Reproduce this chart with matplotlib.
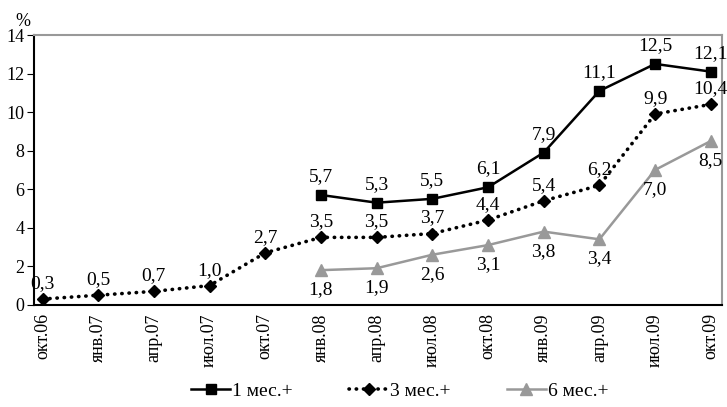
import numpy as np
import matplotlib
matplotlib.use("Agg")
import matplotlib.pyplot as plt

plt.rcParams['font.family'] = ['Liberation Serif', 'DejaVu Serif']

periods = ['окт.06', 'янв.07', 'апр.07', 'июл.07', 'окт.07', 'янв.08', 'апр.08',
           'июл.08', 'окт.08', 'янв.09', 'апр.09', 'июл.09', 'окт.09']
m1 = [np.nan] * 5 + [5.7, 5.3, 5.5, 6.1, 7.9, 11.1, 12.5, 12.1]
m3 = [0.3, 0.5, 0.7, 1.0, 2.7, 3.5, 3.5, 3.7, 4.4, 5.4, 6.2, 9.9, 10.4]
m6 = [np.nan] * 5 + [1.8, 1.9, 2.6, 3.1, 3.8, 3.4, 7.0, 8.5]

x = np.arange(len(periods))

fig = plt.figure(figsize=(7.27, 4.07), dpi=100)
ax = fig.add_axes([0.047, 0.251, 0.946, 0.663])

ax.plot(x, m1, color='black', lw=1.8, marker='s', ms=7, label='1 мес.+')
ax.plot(x, m3, color='black', lw=2.6, ls=(0, (0.1, 1.9)), dash_capstyle='round',
        marker='D', ms=6, label='3 мес.+')
ax.plot(x, m6, color='#999999', lw=1.8, marker='^', ms=8, label='6 мес.+')

def fmt(v):
    return ('%.1f' % v).replace('.', ',')

for i, v in enumerate(m1):
    if not np.isnan(v):
        ax.annotate(fmt(v), (i, v), xytext=(0, 7), textcoords='offset points',
                    ha='center', va='bottom', fontsize=14)
for i, v in enumerate(m3):
    ax.annotate(fmt(v), (i, v), xytext=(0, 5), textcoords='offset points',
                ha='center', va='bottom', fontsize=14)
for i, v in enumerate(m6):
    if not np.isnan(v):
        ax.annotate(fmt(v), (i, v), xytext=(0, -8), textcoords='offset points',
                    ha='center', va='top', fontsize=14)

ax.set_xlim(-0.15, 12.2)
ax.set_ylim(0, 14)
ax.set_yticks(np.arange(0, 15, 2))
ax.set_xticks(x)
ax.set_xticklabels(periods, rotation=90, fontsize=13)
ax.tick_params(axis='y', labelsize=13, direction='out', length=5, pad=2)
ax.tick_params(axis='x', length=0, pad=6)

for s in ['top', 'right']:
    ax.spines[s].set_color('#999999')
    ax.spines[s].set_linewidth(1.5)
for s in ['left', 'bottom']:
    ax.spines[s].set_color('black')
    ax.spines[s].set_linewidth(1.5)

ax.text(-0.016, 1.035, '%', transform=ax.transAxes, fontsize=13, ha='center')

fig.legend(loc='lower center', bbox_to_anchor=(0.55, -0.025), ncol=3,
           frameon=False, fontsize=14, handlelength=2.0, columnspacing=2.9,
           handletextpad=0.1)

fig.savefig('out.png', dpi=100)
